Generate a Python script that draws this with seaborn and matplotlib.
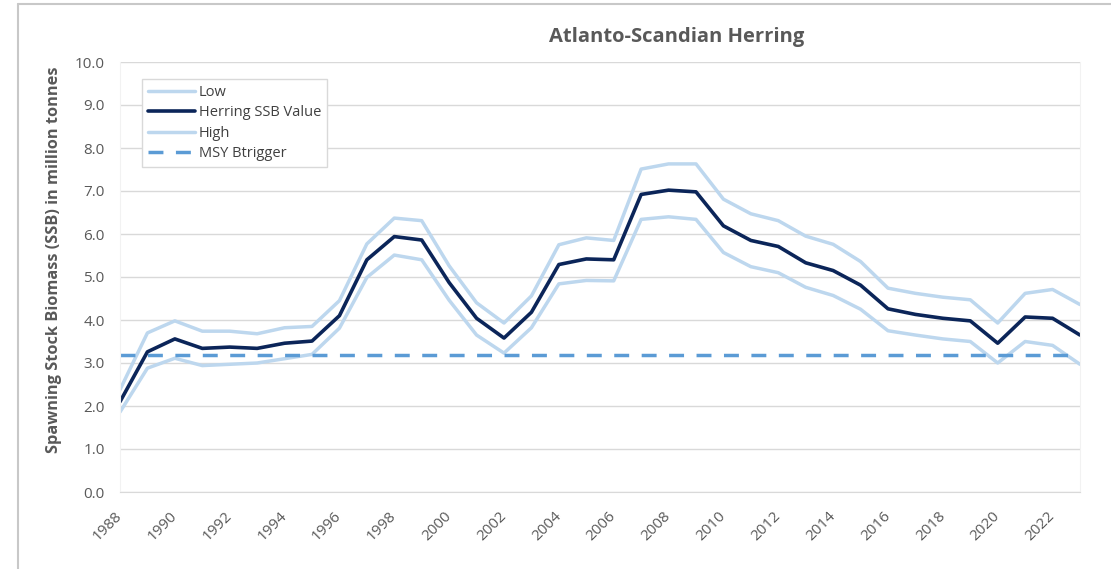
import numpy as np
import pandas as pd
import matplotlib
matplotlib.use("Agg")
import matplotlib.pyplot as plt
import seaborn as sns
from matplotlib.lines import Line2D

# Data (million tonnes)
years = list(range(1988, 2024))
ssb = [2.10, 3.26, 3.56, 3.34, 3.37, 3.34, 3.46, 3.51, 4.10, 5.40, 5.94, 5.86,
       4.87, 4.04, 3.58, 4.18, 5.29, 5.42, 5.40, 6.92, 7.02, 6.98,
       6.19, 5.85, 5.71, 5.33, 5.15, 4.81, 4.26, 4.13, 4.04, 3.98,
       3.46, 4.07, 4.04, 3.65]
high = [2.38, 3.70, 3.98, 3.74, 3.74, 3.68, 3.82, 3.85, 4.45, 5.77, 6.37, 6.31,
        5.26, 4.40, 3.93, 4.56, 5.75, 5.91, 5.85, 7.51, 7.63, 7.63,
        6.81, 6.47, 6.31, 5.95, 5.76, 5.36, 4.74, 4.62, 4.53, 4.47,
        3.93, 4.62, 4.71, 4.36]
low = [1.86, 2.88, 3.11, 2.94, 2.97, 3.00, 3.10, 3.20, 3.81, 4.99, 5.51, 5.40,
       4.46, 3.65, 3.23, 3.82, 4.84, 4.92, 4.91, 6.34, 6.40, 6.34,
       5.57, 5.24, 5.10, 4.76, 4.57, 4.25, 3.75, 3.65, 3.56, 3.50,
       3.00, 3.50, 3.41, 2.97]
msy_btrigger = 3.18

df = pd.DataFrame({
    "Year": years,
    "Low": low,
    "Herring SSB Value": ssb,
    "High": high,
    "MSY Btrigger": [msy_btrigger] * len(years),
})

sns.set_style("white")
plt.rcParams["font.family"] = ["Open Sans", "DejaVu Sans"]

grey_txt = "#595959"
light_blue = "#bdd7ee"
navy = "#0b2559"
dash_blue = "#5b9bd5"

fig = plt.figure(figsize=(11.11, 5.69), dpi=100)
ax = fig.add_axes([120 / 1111, 1 - 492 / 569, 960 / 1111, 430 / 569])

sns.lineplot(data=df, x="Year", y="Low", color=light_blue, lw=2.5, label="Low", ax=ax)
sns.lineplot(data=df, x="Year", y="Herring SSB Value", color=navy, lw=2.6,
             label="Herring SSB Value", ax=ax)
sns.lineplot(data=df, x="Year", y="High", color=light_blue, lw=2.5, label="High", ax=ax)
sns.lineplot(data=df, x="Year", y="MSY Btrigger", color=dash_blue, lw=2.5,
             linestyle=(0, (4.3, 3.6)), label="MSY Btrigger", ax=ax)

ax.set_xlim(1988, 2023)
ax.set_ylim(0, 10)
ax.set_xlabel("")
ax.set_ylabel("")

yt = np.arange(0, 11, 1)
ax.set_yticks(yt)
ax.set_yticklabels([f"{v:.1f}" for v in yt])
ax.set_xticks(years)
ax.set_xticklabels([str(y) if y % 2 == 0 else "" for y in years])

ax.tick_params(axis="y", length=0, pad=11, labelsize=11, labelcolor=grey_txt)
ax.tick_params(axis="x", length=5, width=1, color="#d9d9d9", pad=11,
               labelsize=11, labelcolor=grey_txt)
for lbl in ax.get_xticklabels():
    lbl.set_rotation(45)
    lbl.set_ha("right")
    lbl.set_va("center")
    lbl.set_rotation_mode("anchor")

ax.grid(axis="y", color="#d9d9d9", lw=1)
ax.grid(axis="x", visible=False)
ax.spines["top"].set_visible(False)
ax.spines["bottom"].set_color("#d9d9d9")
ax.spines["left"].set_color("#f2f2f2")
ax.spines["right"].set_color("#f2f2f2")

leg = ax.legend(loc="upper left", bbox_to_anchor=(22 / 960, 1 - 17 / 430),
                borderaxespad=0, frameon=True, fancybox=False, framealpha=1,
                edgecolor="#d9d9d9", fontsize=10.5, handlelength=3.2,
                handletextpad=0.3, labelspacing=0.38, borderpad=0.4)
for t in leg.get_texts():
    t.set_color("#404040")

fig.text(677 / 1111, 1 - 37 / 569, "Atlanto-Scandian Herring", ha="center",
         va="center", fontsize=14.5, fontweight="bold", color=grey_txt)
fig.text(54.5 / 1111, 1 - 260 / 569, "Spawning Stock Biomass (SSB) in million tonnes",
         rotation=90, ha="center", va="center", fontsize=11.8,
         fontweight="bold", color=grey_txt)

# outer chart-area border (left and top edges visible in the crop)
fig.add_artist(Line2D([18 / 1111, 18 / 1111], [0, 1 - 4 / 569],
                      transform=fig.transFigure, color="#c8c8c8", lw=1.5))
fig.add_artist(Line2D([18 / 1111, 1], [1 - 4 / 569, 1 - 4 / 569],
                      transform=fig.transFigure, color="#c8c8c8", lw=1.5))

fig.savefig("out.png", dpi=100)
